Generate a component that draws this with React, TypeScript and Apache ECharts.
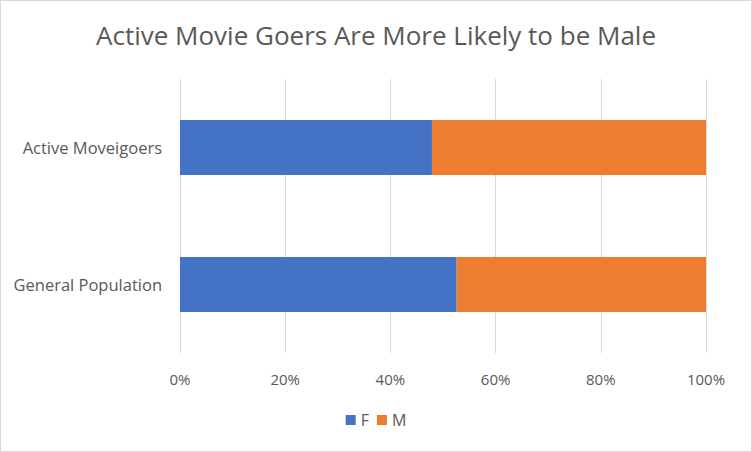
import React, { useEffect, useRef } from "react";
import * as echarts from "echarts";

const categories = ["Active Moveigoers", "General Population"];
const femaleValues = [47.9, 52.6];
const maleValues = [52.1, 47.4];
const xTicks = [0, 20, 40, 60, 80, 100];

export default function App() {
  const ref = useRef<HTMLDivElement>(null);
  useEffect(() => {
    document.body.style.margin = "0";
    const chart = echarts.init(ref.current!, undefined, { renderer: "svg" });
    const font = "'Open Sans', 'Noto Sans', sans-serif";
    chart.setOption({
      animation: false,
      backgroundColor: "#ffffff",
      title: {
        text: "Active Movie Goers Are More Likely to be Male",
        left: "center",
        top: 16,
        textStyle: { fontFamily: font, fontSize: 26, fontWeight: "normal", color: "#595959" },
      },
      legend: {
        bottom: 18,
        left: "center",
        itemWidth: 10,
        itemHeight: 10,
        itemGap: 8,
        icon: "rect",
        textStyle: { fontFamily: font, fontSize: 16, color: "#595959" },
        data: ["F", "M"],
      },
      grid: { left: 179, right: 45, top: 78, bottom: 98 },
      xAxis: {
        type: "value",
        min: 0,
        max: 100,
        interval: 20,
        axisLine: { show: false },
        axisTick: { show: false },
        splitLine: { show: true, lineStyle: { color: "#d9d9d9", width: 1 } },
        axisLabel: {
          margin: 18,
          fontFamily: font,
          fontSize: 15,
          color: "#595959",
          formatter: (v: number) => (xTicks.includes(v) ? v + "%" : ""),
        },
      },
      yAxis: {
        type: "category",
        inverse: true,
        data: categories,
        axisLine: { show: false },
        axisTick: { show: false },
        axisLabel: { margin: 18, fontFamily: font, fontSize: 16.5, color: "#595959" },
      },
      series: [
        {
          name: "F",
          type: "bar",
          stack: "total",
          barWidth: 55,
          data: femaleValues,
          itemStyle: { color: "#4472C4" },
        },
        {
          name: "M",
          type: "bar",
          stack: "total",
          barWidth: 55,
          data: maleValues,
          itemStyle: { color: "#ED7D31" },
        },
      ],
    });
    return () => chart.dispose();
  }, []);
  return (
    <div
      ref={ref}
      style={{ width: 752, height: 452, boxSizing: "border-box", border: "1px solid #d9d9d9" }}
    />
  );
}
